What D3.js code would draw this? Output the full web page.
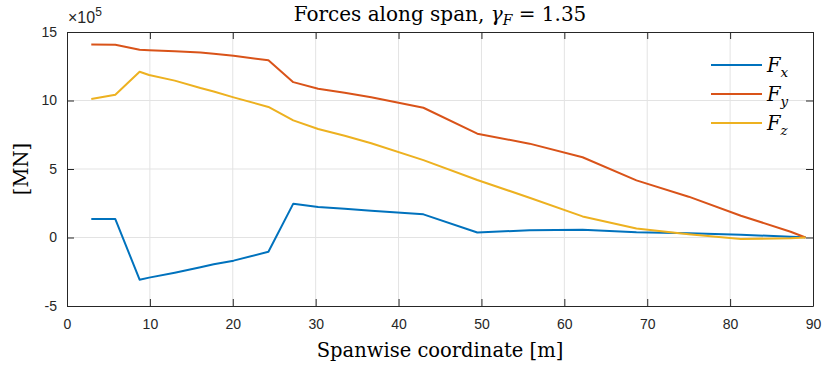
<!DOCTYPE html>
<html lang="en">
<head>
<meta charset="UTF-8">
<title>Forces along span</title>
<script src="https://cdn.jsdelivr.net/npm/d3@7"></script>
<style>
  body { margin: 0; background: #fff; }
  .tick text { font-family: "Liberation Sans", Arial, sans-serif; font-size: 14px; fill: #262626; }
</style>
</head>
<body>
<div id="output"></div>
<script>

// spanwise stations [m]
var span = [2.93, 5.83, 8.76, 9.9, 13.0, 16.1, 17.7, 20.1, 24.3, 27.3, 30.3, 33.5, 36.7,
            43.0, 49.5, 55.8, 62.2, 68.7, 75.0, 81.3, 87.3, 89.1];

// forces, in units of 1e5
var fx = [1.35, 1.35, -3.08, -2.93, -2.57, -2.17, -1.95, -1.69, -1.04, 2.47, 2.23, 2.10, 1.96,
          1.69, 0.37, 0.53, 0.57, 0.39, 0.31, 0.20, 0.06, 0.02];
var fy = [14.09, 14.07, 13.71, 13.67, 13.60, 13.51, 13.42, 13.27, 12.93, 11.34, 10.86, 10.57, 10.24,
          9.47, 7.58, 6.85, 5.86, 4.17, 2.98, 1.59, 0.42, 0.0];
var fz = [10.11, 10.42, 12.10, 11.86, 11.45, 10.91, 10.66, 10.23, 9.53, 8.55, 7.92, 7.43, 6.88,
          5.65, 4.20, 2.90, 1.54, 0.66, 0.24, -0.11, -0.05, 0.0];

var seriesNames = ["x", "y", "z"];
var seriesColors = ["#0072BD", "#D95319", "#EDB120"];
var xTicks = [0, 10, 20, 30, 40, 50, 60, 70, 80, 90];
var yTicks = [-5, 0, 5, 10, 15];

var serif = "'DejaVu Serif', 'Liberation Serif', serif";

var w = 824, h = 370;
var margin = {left: 67, right: 11, top: 32, bottom: 64};
var pw = w - margin.left - margin.right,
    ph = h - margin.top - margin.bottom;

var svg = d3.select("#output").append("svg")
    .attr("width", w).attr("height", h);

var g = svg.append("g")
    .attr("transform", "translate(" + margin.left + "," + margin.top + ")");

var x = d3.scaleLinear().domain([0, 90]).range([0, pw]);
var y = d3.scaleLinear().domain([-5, 15]).range([ph, 0]);

// grid
g.append("g").selectAll("line").data(xTicks.slice(1, -1)).enter().append("line")
    .attr("x1", d => x(d)).attr("x2", d => x(d))
    .attr("y1", 0).attr("y2", ph)
    .attr("stroke", "#e3e3e3").attr("stroke-width", 1);
g.append("g").selectAll("line").data(yTicks.slice(1, -1)).enter().append("line")
    .attr("x1", 0).attr("x2", pw)
    .attr("y1", d => y(d)).attr("y2", d => y(d))
    .attr("stroke", "#e3e3e3").attr("stroke-width", 1);

// axes (ticks pointing inward)
function styleAxis(sel) {
    sel.select(".domain").attr("stroke", "#262626").attr("stroke-width", 1);
    sel.selectAll(".tick line").attr("stroke", "#262626");
}
var plain = function(d) { return String(d); };
g.append("g").attr("transform", "translate(0," + ph + ")")
    .call(d3.axisBottom(x).tickValues(xTicks).tickFormat(plain).tickSizeInner(-7).tickSizeOuter(0).tickPadding(13))
    .call(styleAxis);
g.append("g")
    .call(d3.axisTop(x).tickValues(xTicks).tickSizeInner(-7).tickSizeOuter(0).tickFormat(""))
    .call(styleAxis);
g.append("g")
    .call(d3.axisLeft(y).tickValues(yTicks).tickFormat(plain).tickSizeInner(-7).tickSizeOuter(0).tickPadding(10))
    .call(styleAxis);
g.append("g").attr("transform", "translate(" + pw + ",0)")
    .call(d3.axisRight(y).tickValues(yTicks).tickSizeInner(-7).tickSizeOuter(0).tickFormat(""))
    .call(styleAxis);

// lines
var line = d3.line()
    .x(function(d, i) { return x(span[i]); })
    .y(function(d) { return y(d); });

[fx, fy, fz].forEach(function(s, k) {
    g.append("path").datum(s)
        .attr("d", line)
        .attr("fill", "none")
        .attr("stroke", seriesColors[k])
        .attr("stroke-width", 2)
        .attr("stroke-linejoin", "round");
});

// exponent label
var ex = svg.append("text")
    .attr("x", margin.left + 1).attr("y", margin.top - 9)
    .style("font-family", "'Liberation Sans', Arial, sans-serif")
    .style("font-size", "16px").style("fill", "#262626");
ex.append("tspan").text("\u00d710");
ex.append("tspan").attr("dy", -7).style("font-size", "12px").text("5");

// title
var t = svg.append("text")
    .attr("x", 440).attr("y", 21)
    .attr("text-anchor", "middle")
    .style("font-family", serif).style("font-size", "20px").style("fill", "#000");
t.append("tspan").text("Forces along span, ");
t.append("tspan").style("font-style", "italic").text("\u03b3");
t.append("tspan").attr("dy", 4).style("font-style", "italic").style("font-size", "14px").text("F");
t.append("tspan").attr("dy", -4).text(" = 1.35");

// axis labels
svg.append("text")
    .attr("x", 440).attr("y", 357)
    .attr("text-anchor", "middle")
    .style("font-family", serif).style("font-size", "19.5px").style("fill", "#000")
    .text("Spanwise coordinate [m]");
svg.append("text")
    .attr("transform", "translate(28," + (margin.top + ph / 2) + ") rotate(-90)")
    .attr("text-anchor", "middle")
    .style("font-family", serif).style("font-size", "19.5px").style("fill", "#000")
    .text("[MN]");

// legend
var leg = svg.append("g").attr("transform", "translate(711,65)");
seriesNames.forEach(function(n, k) {
    var row = leg.append("g").attr("transform", "translate(0," + (k * 29) + ")");
    row.append("line").attr("x1", 0).attr("x2", 51).attr("y1", 0).attr("y2", 0)
        .attr("stroke", seriesColors[k]).attr("stroke-width", 2);
    var lt = row.append("text")
        .attr("x", 56).attr("y", 7)
        .style("font-family", serif).style("font-size", "19.5px").style("font-style", "italic");
    lt.append("tspan").text("F");
    lt.append("tspan").attr("dy", 5).style("font-size", "13.5px").text(n);
});

</script>
</body>
</html>
